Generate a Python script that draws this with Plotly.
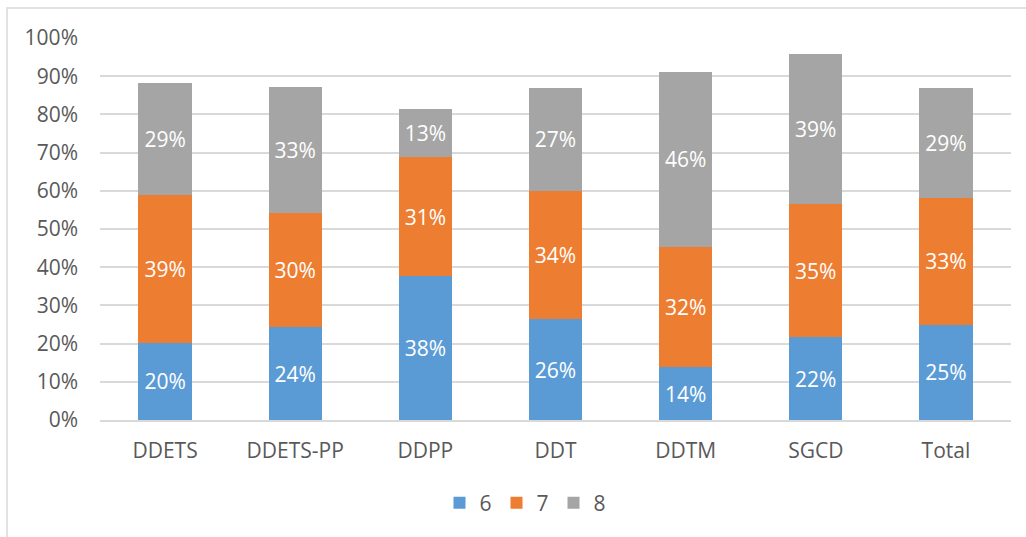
import plotly.graph_objects as go

categories = ["DDETS", "DDETS-PP", "DDPP", "DDT", "DDTM", "SGCD", "Total"]
series_names = ["6", "7", "8"]
values_6 = [0.202, 0.243, 0.376, 0.264, 0.138, 0.217, 0.249]
values_7 = [0.387, 0.299, 0.312, 0.336, 0.316, 0.348, 0.332]
values_8 = [0.293, 0.330, 0.126, 0.270, 0.456, 0.393, 0.288]
colors = ["#5B9BD5", "#ED7D31", "#A5A5A5"]

FONT = "Open Sans"
TXT = "#595959"
FS = 21

fig = go.Figure()
for name, vals, col in zip(series_names, [values_6, values_7, values_8], colors):
    fig.add_trace(go.Bar(
        x=categories, y=vals, name=name,
        marker=dict(color=col, line=dict(width=0)),
        texttemplate="%{y:.0%}", textposition="inside",
        insidetextanchor="middle", textangle=0, constraintext="none",
        textfont=dict(color="white", size=FS, family=FONT),
        hoverinfo="skip",
    ))

W, H = 1026, 537
L, R, T, B = 100, 15, 38, 117
pw, ph = W - L - R, H - T - B

def px_x(x):
    return (x - L) / pw

def px_y(y):
    return (H - B - y) / ph

fig.update_layout(
    width=W, height=H, barmode="stack", bargap=0.59,
    margin=dict(l=L, r=R, t=T, b=B),
    paper_bgcolor="white", plot_bgcolor="white",
    font=dict(family=FONT, color=TXT, size=FS),
    showlegend=True,
    legend=dict(orientation="h", x=px_x(525), xanchor="center",
                y=px_y(503), yanchor="middle",
                font=dict(size=FS, color=TXT, family=FONT),
                traceorder="normal", itemwidth=30,
                entrywidthmode="pixels", entrywidth=12),
    yaxis=dict(range=[0, 1], dtick=0.1, tickformat=".0%",
               showgrid=True, gridcolor="#D9D9D9", gridwidth=1.5,
               zeroline=False, showline=False, ticklabelstandoff=21,
               tickfont=dict(size=FS, color=TXT, family=FONT)),
    xaxis=dict(showline=True, linecolor="#D9D9D9", linewidth=1.5,
               ticks="", ticklabelstandoff=11,
               tickfont=dict(size=FS, color=TXT, family=FONT)),
    shapes=[dict(type="rect", xref="paper", yref="paper",
                 x0=px_x(7), x1=px_x(1060),
                 y0=px_y(560), y1=px_y(8),
                 line=dict(color="#D9D9D9", width=1.5), fillcolor="rgba(0,0,0,0)",
                 layer="below")],
)

fig.write_html("out.html", config={"displayModeBar": False},
               post_script="document.body.style.margin='0px';document.body.style.overflow='hidden';")
